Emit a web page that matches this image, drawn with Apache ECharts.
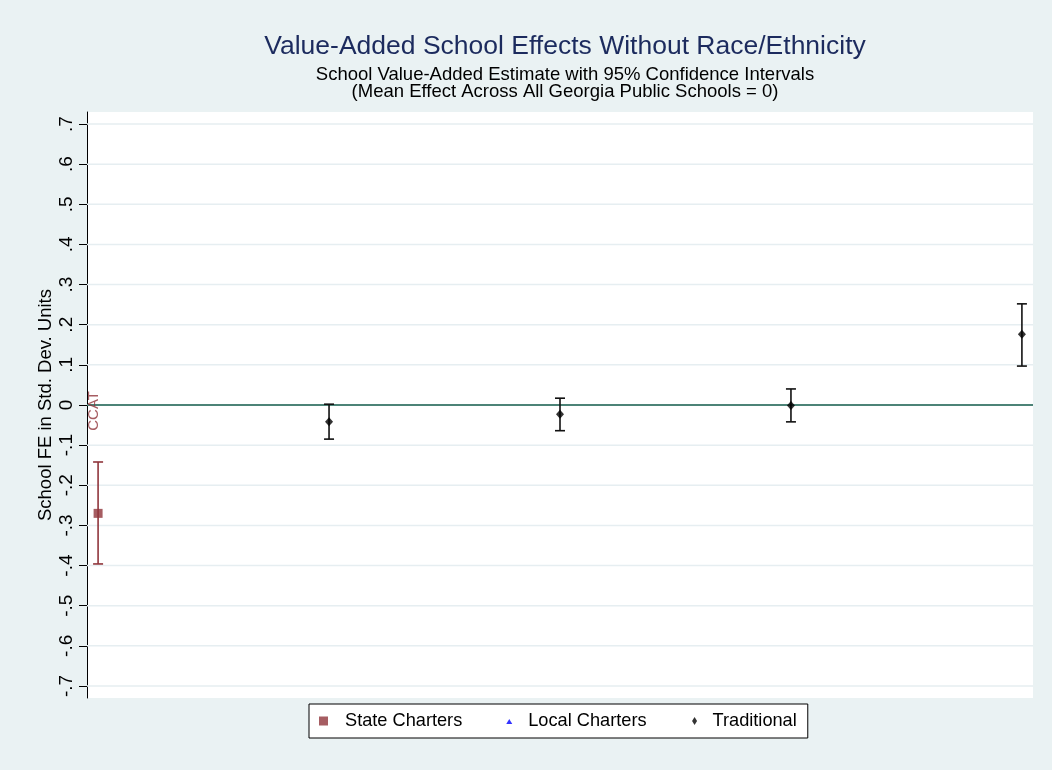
<!DOCTYPE html>
<html>
<head>
<meta charset="utf-8">
<script src="https://cdn.jsdelivr.net/npm/echarts@6/dist/echarts.min.js"></script>
<style>
html,body{margin:0;padding:0;background:#fff;}
#c{width:1052px;height:770px;}
</style>
</head>
<body>
<div id="c"></div>
<script>
// ---- data ----
const yTicks = [-0.7, -0.6, -0.5, -0.4, -0.3, -0.2, -0.1, 0, 0.1, 0.2, 0.3, 0.4, 0.5, 0.6, 0.7];
const stateNames = ['CCAT'];
const stateX = [1];
const stateEst = [-0.27];
const stateLo = [-0.396];
const stateHi = [-0.142];
const localX = [];
const localEst = [];
const tradX = [2, 3, 4, 5];
const tradEst = [-0.042, -0.023, -0.001, 0.176];
const tradLo = [-0.085, -0.064, -0.042, 0.097];
const tradHi = [0.002, 0.017, 0.040, 0.252];
const titleText = 'Value-Added School Effects Without Race/Ethnicity';
const subtitleLines = ['School Value-Added Estimate with 95% Confidence Intervals', '(Mean Effect Across All Georgia Public Schools = 0)'];
const yTitle = 'School FE in Std. Dev. Units';
const legendNames = ['State Charters', 'Local Charters', 'Traditional'];

// ---- styles ----
const FONT = 'Liberation Sans, Arial, Helvetica, sans-serif';
const RED = '#90353B';
const BLUE = '#0000FF';
const BLACK = '#000000';

function fmtTick(v) {
  if (Math.abs(v) < 1e-9) return '0';
  return v.toFixed(1).replace('0.', '.');
}

function errorBarSeries(name, xs, lo, hi, color) {
  return {
    type: 'custom',
    name: name,
    silent: true,
    z: 3,
    data: xs.map((x, i) => [x, lo[i], hi[i]]),
    encode: { x: 0, y: [1, 2] },
    renderItem: function (params, api) {
      const top = api.coord([api.value(0), api.value(2)]);
      const bot = api.coord([api.value(0), api.value(1)]);
      const half = 5;
      const style = { stroke: color, lineWidth: 1.6, fill: null };
      return {
        type: 'group',
        children: [
          { type: 'line', shape: { x1: top[0], y1: top[1], x2: bot[0], y2: bot[1] }, style: style },
          { type: 'line', shape: { x1: top[0] - half, y1: top[1], x2: top[0] + half, y2: top[1] }, style: style },
          { type: 'line', shape: { x1: bot[0] - half, y1: bot[1], x2: bot[0] + half, y2: bot[1] }, style: style }
        ]
      };
    }
  };
}

const gridLineSeries = {
  type: 'custom',
  name: 'gridlines',
  silent: true,
  z: 1,
  data: yTicks.map(v => [v]),
  encode: { y: 0 },
  renderItem: function (params, api) {
    const v = api.value(0);
    const y = api.coord([1, v])[1];
    const cs = params.coordSys;
    const isZero = Math.abs(v) < 1e-9;
    return {
      type: 'line',
      z2: isZero ? 10 : 0,
      shape: { x1: cs.x, y1: y, x2: cs.x + cs.width, y2: y },
      style: { stroke: isZero ? '#4C8377' : '#E6EEF1', lineWidth: isZero ? 2 : 1.5 }
    };
  }
};

const chart = echarts.init(document.getElementById('c'), null, { renderer: 'canvas' });
chart.setOption({
  animation: false,
  backgroundColor: '#EAF2F3',
  title: [
    {
      text: titleText, left: 560, top: 28, textAlign: 'center',
      textStyle: { fontFamily: FONT, fontSize: 26.5, fontWeight: 'normal', color: '#1C2B5E' }
    },
    {
      text: subtitleLines.join('\n'), left: 560, top: 61.5, textAlign: 'center',
      textStyle: { fontFamily: FONT, fontSize: 18.5, lineHeight: 17, fontWeight: 'normal', color: '#000' }
    }
  ],
  legend: {
    data: [
      { name: legendNames[0], icon: 'path://M0,0M21,9M0,0h9v9h-9z' },
      { name: legendNames[1], icon: 'path://M0,0M21,9M4,7.5L7,2.5L10,7.5Z' },
      { name: legendNames[2], icon: 'path://M0,0M21,9M8,0.5L10.5,4.5L8,8.5L5.5,4.5Z' }
    ],
    left: 309, top: 704,
    itemWidth: 21, itemHeight: 9, itemGap: 40,
    padding: [8, 11, 8, 10],
    borderColor: '#000', borderWidth: 1, backgroundColor: '#fff',
    selectedMode: false,
    textStyle: { fontFamily: FONT, fontSize: 18.2, color: '#000' }
  },
  grid: {
    left: 87, right: 19, top: 112, bottom: 72,
    show: true, backgroundColor: '#fff', borderWidth: 0,
    containLabel: false, outerBoundsMode: 'none'
  },
  xAxis: {
    type: 'value', min: 0.952, max: 5.048, show: false,
    splitLine: { show: false }
  },
  yAxis: {
    type: 'value', min: -0.73, max: 0.73,
    name: yTitle, nameLocation: 'middle', nameGap: 32, nameRotate: 90, nameMoveOverlap: false,
    nameTextStyle: { fontFamily: FONT, fontSize: 18.5, color: '#000' },
    axisLine: { show: true, onZero: false, lineStyle: { color: '#000', width: 1 } },
    axisTick: { show: true, length: 8, customValues: yTicks, lineStyle: { color: '#000', width: 1 } },
    axisLabel: { customValues: yTicks, rotate: 90, margin: 11, fontFamily: FONT, fontSize: 19, color: '#000', formatter: fmtTick },
    splitLine: { show: false }
  },
  series: [
    gridLineSeries,
    errorBarSeries('State Charters CI', stateX, stateLo, stateHi, RED),
    errorBarSeries('Traditional CI', tradX, tradLo, tradHi, '#111'),
    {
      name: legendNames[0], type: 'scatter', z: 4,
      data: stateX.map((x, i) => [x, stateEst[i], stateNames[i]]),
      symbol: 'rect', symbolSize: 9,
      itemStyle: { color: RED },
      label: {
        show: true, formatter: p => p.value[2],
        position: [0.5, -98], rotate: 90, align: 'center', verticalAlign: 'middle',
        color: RED, fontFamily: FONT, fontSize: 15
      }
    },
    {
      name: legendNames[1], type: 'scatter', z: 4,
      data: localX.map((x, i) => [x, localEst[i]]),
      symbol: 'triangle', symbolSize: 7,
      itemStyle: { color: BLUE }
    },
    {
      name: legendNames[2], type: 'scatter', z: 4,
      data: tradX.map((x, i) => [x, tradEst[i]]),
      symbol: 'diamond', symbolSize: [8, 9],
      itemStyle: { color: BLACK }
    }
  ]
});
</script>
</body>
</html>
